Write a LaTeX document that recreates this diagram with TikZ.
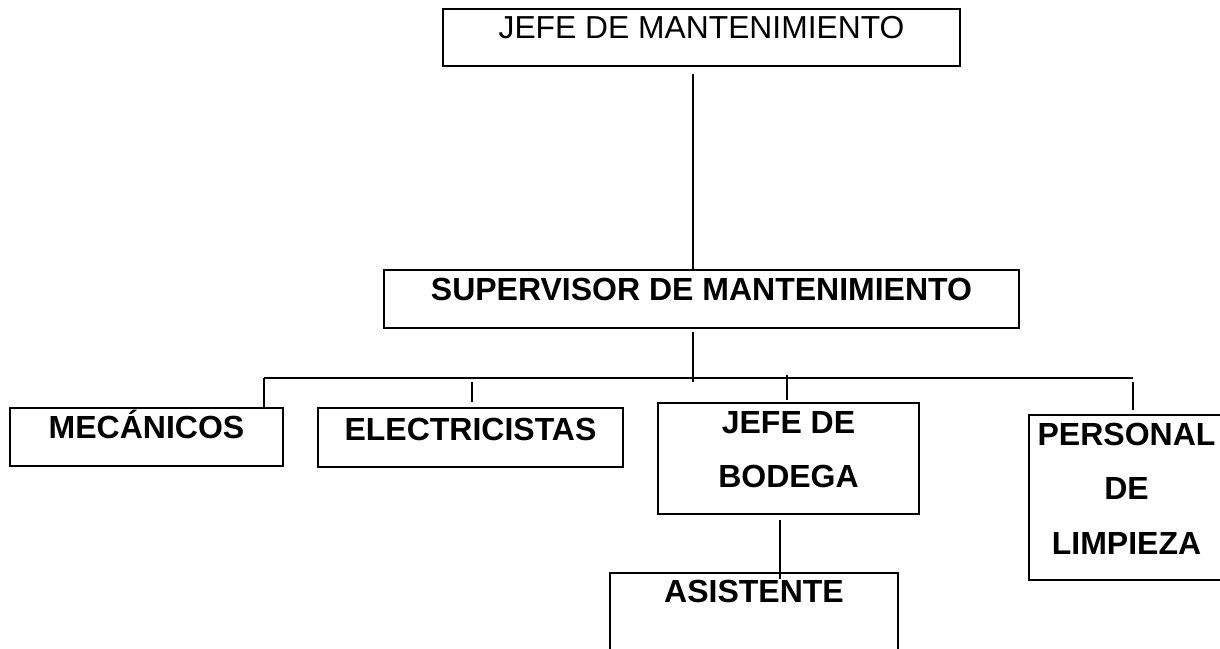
\documentclass[tikz,border=0pt]{standalone}
\usepackage{fontspec}
\setmainfont{Liberation Sans}
\usetikzlibrary{calc}
\def\boxtext#1#2#3#4{\parbox[c][#2][t]{#1}{\centering\rule{0pt}{#3}#4}}

\begin{document}
\begin{tikzpicture}[x=0.5pt, y=-0.5pt,
		box/.style={draw, line width=1.4pt, inner sep=0pt, font=\bfseries\fontsize{16}{27.25}\selectfont},
		link/.style={line width=1pt}]
			%%%%% START %%%%%
			\useasboundingbox (0, 0) rectangle (1220, 648);
			
			\node[box, font=\fontsize{15.9}{19}\selectfont] (jefe) at (701.5, 37.5) {\boxtext{258.5pt}{28.5pt}{15pt}{JEFE DE MANTENIMIENTO}};
			\node[box] (sup) at (701.5, 299) {\boxtext{317.5pt}{29pt}{15pt}{SUPERVISOR DE MANTENIMIENTO}};
			
			\node[box] (mec) at (146.5, 437) {\boxtext{136.5pt}{29pt}{15pt}{MECÁNICOS}};
			\node[box] (elec) at (470.5, 437.5) {\boxtext{152.5pt}{29.5pt}{16pt}{ELECTRICISTAS}};
			\node[box] (bod) at (788.5, 458.5) {\boxtext{130.5pt}{55.5pt}{15pt}{JEFE DE\\BODEGA}};
			\node[box] (per) at (1126.5, 497.5) {\boxtext{97.5pt}{82.5pt}{15pt}{PERSONAL\\DE\\LIMPIEZA}};
			\node[box] (asi) at (754, 628) {\boxtext{144pt}{55pt}{14.5pt}{ASISTENTE}};
			
			\coordinate (busL) at (264, 378);
			\coordinate (busR) at (1133, 378);
			\coordinate (tapE) at (472, 382);
			\coordinate (tapB) at (787, 375);
			
			\draw[link] ($(jefe.south)+(-8.5, 7)$) -- ($(sup.north)+(-8.5, 0)$);
			\draw[link] ($(sup.south)+(-8.5, 3)$) -- ($(sup.south)+(-8.5, 53)$);
			\draw[link] (busL) -- (busR);
			
			\draw[link] (busL) -- (busL |- mec.north);
			\draw[link] (tapE) -- ($(tapE |- elec.north)+(0, -5)$);
			\draw[link] (tapB) -- ($(tapB |- bod.north)+(0, -2)$);
			\draw[link] ($(busR)+(0, 4)$) -- ($(busR |- per.north)+(0, -4)$);
			
			\draw[link] ($(bod.south)+(-9, 5)$) -- ($(asi.north)+(25.5, 7)$);
			%%%%% END %%%%%
		\end{tikzpicture}
\end{document}
